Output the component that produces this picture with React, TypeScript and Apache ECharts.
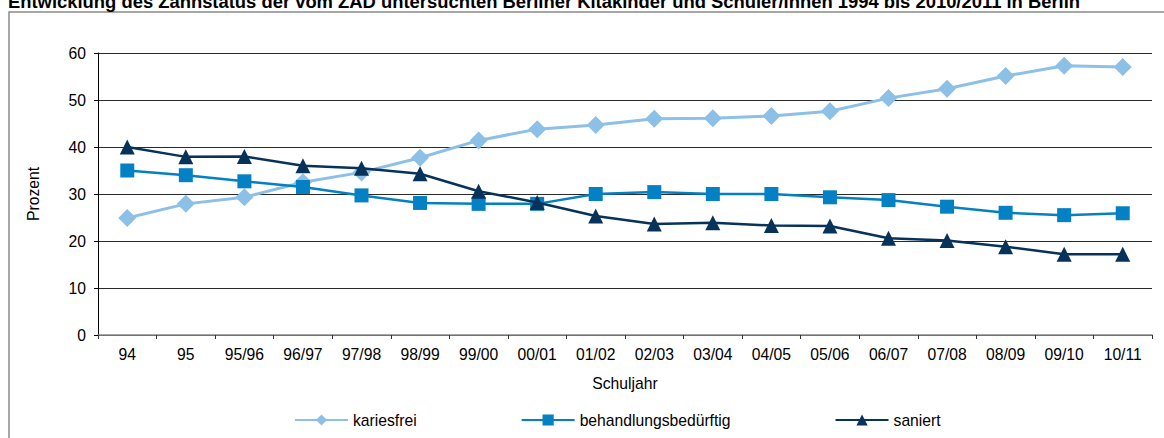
import React, { useEffect, useRef } from "react";
import * as echarts from "echarts";

const categories = ["94", "95", "95/96", "96/97", "97/98", "98/99", "99/00", "00/01", "01/02", "02/03", "03/04", "04/05", "05/06", "06/07", "07/08", "08/09", "09/10", "10/11"];
const kariesfrei = [24.9, 27.9, 29.3, 32.5, 34.6, 37.7, 41.4, 43.8, 44.7, 46.0, 46.1, 46.6, 47.6, 50.4, 52.4, 55.1, 57.3, 57.0];
const behandlungsbeduerftig = [35.0, 34.0, 32.7, 31.5, 29.7, 28.1, 27.9, 27.9, 30.0, 30.4, 30.0, 30.0, 29.3, 28.7, 27.3, 26.0, 25.5, 25.9];
const saniert = [40.0, 37.9, 38.0, 36.0, 35.5, 34.3, 30.6, 28.2, 25.3, 23.6, 23.9, 23.3, 23.2, 20.6, 20.1, 18.8, 17.2, 17.2];
const seriesNames = ["kariesfrei", "behandlungsbedürftig", "saniert"];
const titleText = "Entwicklung des Zahnstatus der vom ZAD untersuchten Berliner Kitakinder und Schüler/innen 1994 bis 2010/2011 in Berlin";

const FONT = "'Liberation Sans', Arial, sans-serif";
const FS = 15.7;
const C_LIGHT = "#8DC0E7";
const C_MID = "#0480C4";
const C_DARK = "#07325A";

export default function App() {
  const ref = useRef<HTMLDivElement>(null);
  useEffect(() => {
    document.body.style.margin = "0";
    const chart = echarts.init(ref.current!, null, { renderer: "svg" });
    chart.setOption({
      animation: false,
      backgroundColor: "#ffffff",
      textStyle: { fontFamily: FONT, color: "#000" },
      title: {
        text: titleText,
        left: 8,
        top: -8,
        padding: 0,
        textStyle: { fontFamily: FONT, fontSize: 18.4, fontWeight: "bold", color: "#000" },
      },
      graphic: [
        {
          type: "rect",
          z: -1,
          shape: { x: 9, y: 12, width: 1160, height: 440 },
          style: { fill: "none", stroke: "#8a8a8a", lineWidth: 1.5 },
          silent: true,
        },
      ],
      grid: { left: 98, right: 12, top: 53, bottom: 103, containLabel: false },
      legend: {
        left: 294,
        top: 412,
        itemWidth: 53,
        itemHeight: 14,
        itemGap: 104,
        padding: 0,
        textStyle: { fontFamily: FONT, fontSize: FS, color: "#000" },
        data: seriesNames,
      },
      xAxis: {
        type: "category",
        data: categories,
        boundaryGap: true,
        name: "Schuljahr",
        nameLocation: "middle",
        nameGap: 40,
        nameTextStyle: { fontFamily: FONT, fontSize: FS, color: "#000" },
        axisLine: { lineStyle: { color: "#8a8a8a", width: 1.5 } },
        axisTick: { show: true, interval: 0, length: 4, lineStyle: { color: "#333" } },
        axisLabel: { interval: 0, margin: 11, fontFamily: FONT, fontSize: FS, color: "#000" },
      },
      yAxis: {
        type: "value",
        min: 0,
        max: 60,
        interval: 10,
        name: "Prozent",
        nameLocation: "middle",
        nameRotate: 90,
        nameGap: 57,
        nameTextStyle: { fontFamily: FONT, fontSize: FS, color: "#000" },
        axisLine: { show: true, lineStyle: { color: "#000", width: 1 } },
        axisTick: { show: true, length: 4, lineStyle: { color: "#000" } },
        axisLabel: { margin: 12, fontFamily: FONT, fontSize: FS, color: "#000" },
        splitLine: { show: true, lineStyle: { color: "#2a2a2a", width: 1 } },
      },
      series: [
        {
          name: seriesNames[0],
          type: "line",
          data: kariesfrei,
          symbol: "diamond",
          symbolSize: 18,
          itemStyle: { color: C_LIGHT },
          lineStyle: { color: C_LIGHT, width: 3 },
          z: 3,
        },
        {
          name: seriesNames[1],
          type: "line",
          data: behandlungsbeduerftig,
          symbol: "rect",
          symbolSize: 14,
          itemStyle: { color: C_MID },
          lineStyle: { color: C_MID, width: 2.5 },
          z: 4,
        },
        {
          name: seriesNames[2],
          type: "line",
          data: saniert,
          symbol: "triangle",
          symbolSize: 15,
          itemStyle: { color: C_DARK },
          lineStyle: { color: C_DARK, width: 2.5 },
          z: 5,
        },
      ],
    });
    return () => chart.dispose();
  }, []);
  return (
    <div
      ref={ref}
      style={{ position: "fixed", left: 0, top: 0, width: 1164, height: 438 }}
    />
  );
}
